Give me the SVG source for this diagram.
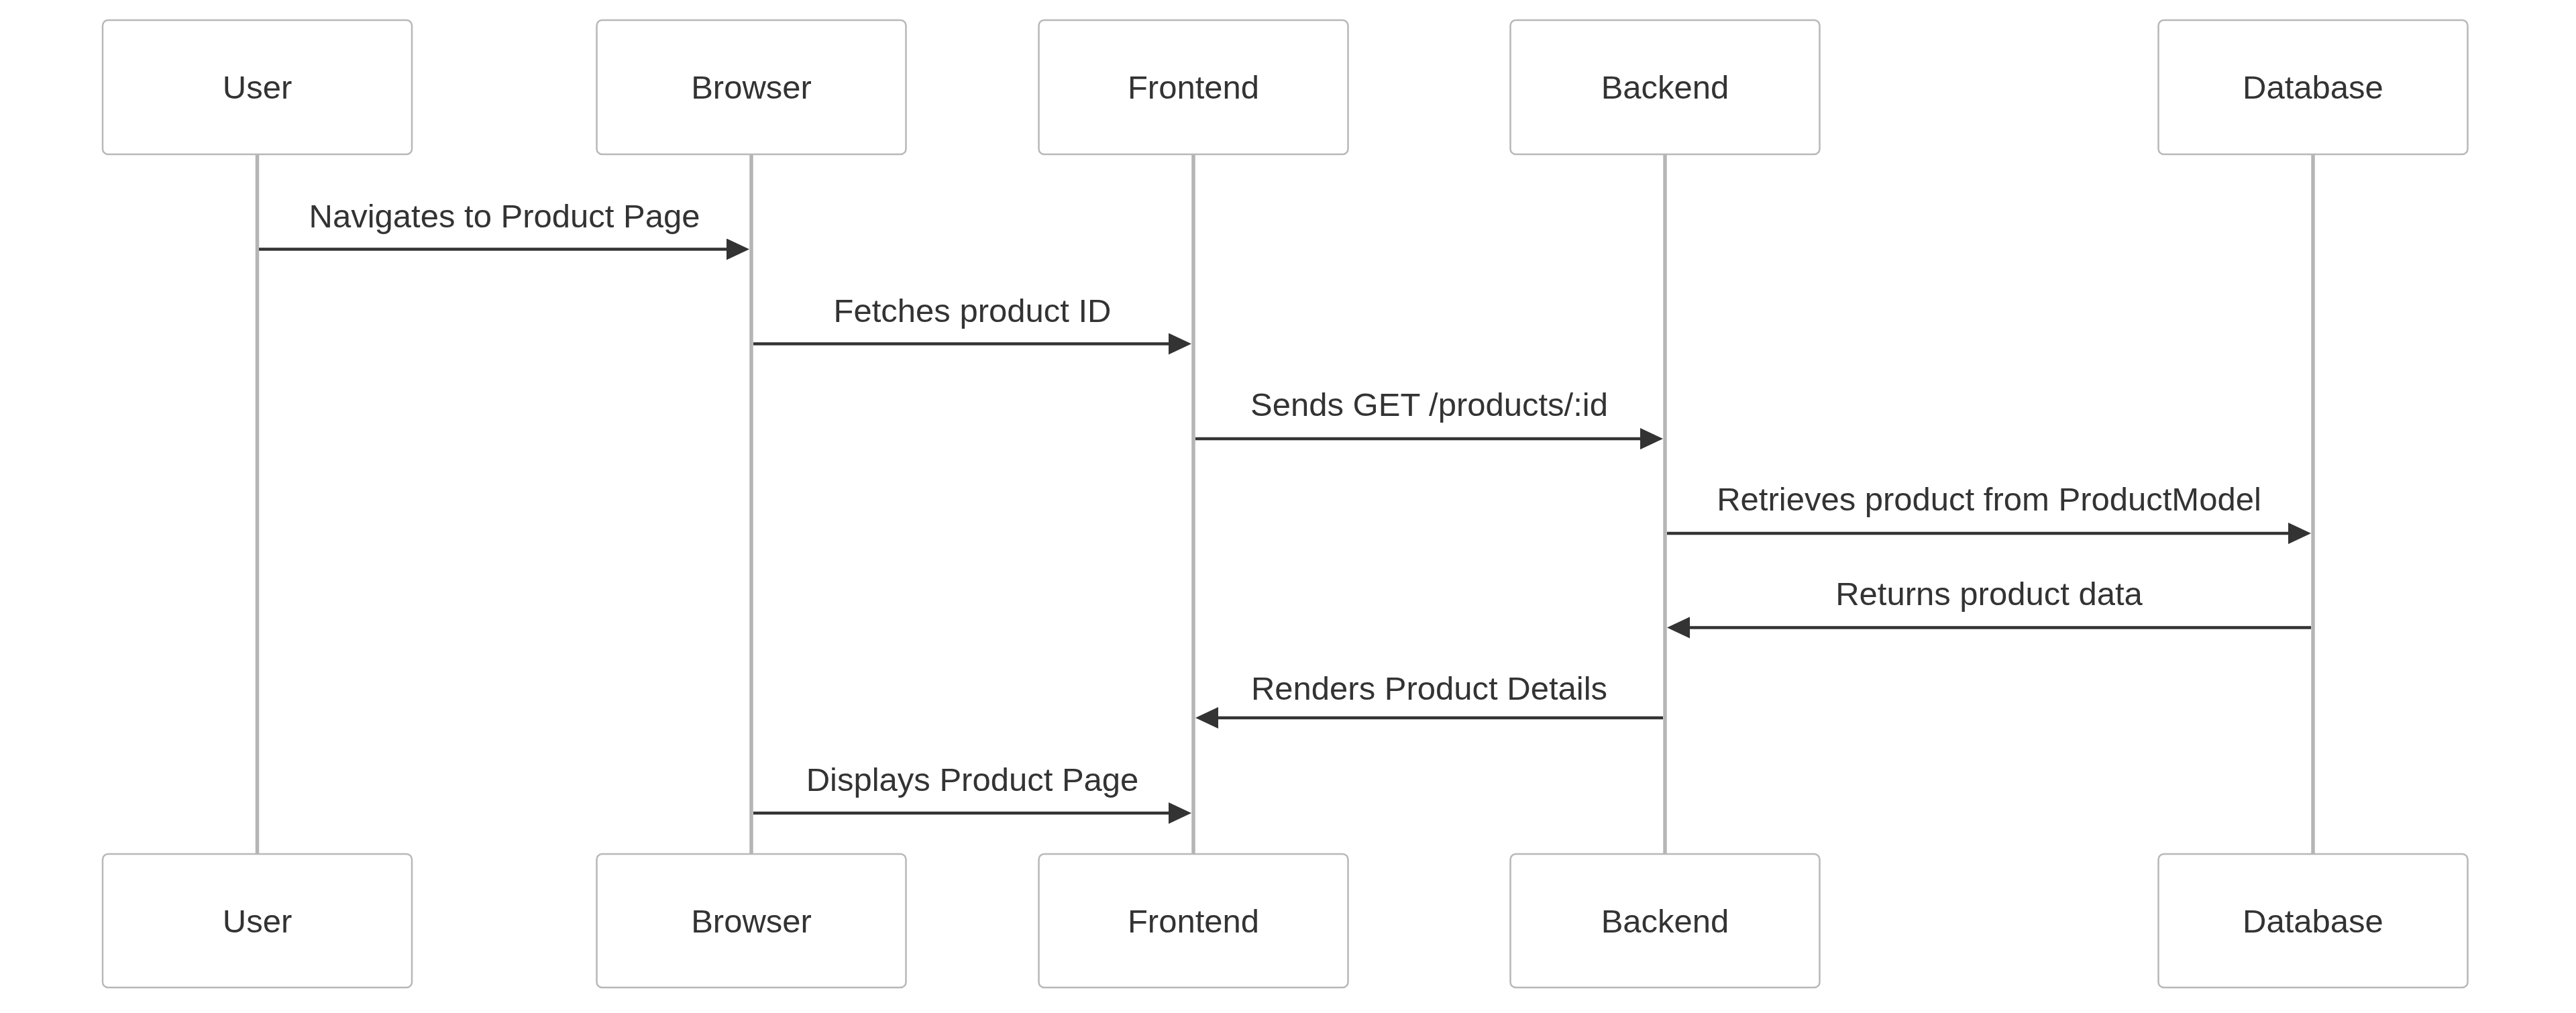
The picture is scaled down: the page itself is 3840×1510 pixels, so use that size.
<svg xmlns="http://www.w3.org/2000/svg" width="3840" height="1510" viewBox="0 0 3840 1510">
<style>
.actor rect{fill:#ffffff;stroke:#b8b8b8;stroke-width:2.5}
.actor text{font-family:"Liberation Sans",Arial,sans-serif;font-size:49px;fill:#333333;text-anchor:middle}
.life{stroke:#b5b5b5;stroke-width:5.5}
.msg{stroke:#333333;stroke-width:4.3;fill:none;marker-end:url(#arrow)}
.lbl{font-family:"Liberation Sans",Arial,sans-serif;font-size:49px;fill:#333333;text-anchor:middle}
</style>
<defs>
<marker id="arrow" markerUnits="userSpaceOnUse" markerWidth="40" markerHeight="40" refX="24" refY="16" orient="auto">
<path d="M0,0 L34,16 L0,32 z" fill="#333333"/>
</marker>
</defs>
<g id="lifelines">
<line class="life" x1="383.5" y1="230" x2="383.5" y2="1273"/>
<line class="life" x1="1120" y1="230" x2="1120" y2="1273"/>
<line class="life" x1="1779" y1="230" x2="1779" y2="1273"/>
<line class="life" x1="2482" y1="230" x2="2482" y2="1273"/>
<line class="life" x1="3448" y1="230" x2="3448" y2="1273"/>
</g>
<g id="user-top" class="actor"><rect x="153" y="30" width="461" height="200" rx="8"/><text x="383.5" y="147">User</text></g>
<g id="browser-top" class="actor"><rect x="889.5" y="30" width="461" height="200" rx="8"/><text x="1120" y="147">Browser</text></g>
<g id="frontend-top" class="actor"><rect x="1548.5" y="30" width="461" height="200" rx="8"/><text x="1779" y="147">Frontend</text></g>
<g id="backend-top" class="actor"><rect x="2251.5" y="30" width="461" height="200" rx="8"/><text x="2482" y="147">Backend</text></g>
<g id="database-top" class="actor"><rect x="3217.5" y="30" width="461" height="200" rx="8"/><text x="3448" y="147">Database</text></g>
<g id="user-bottom" class="actor"><rect x="153" y="1273" width="461" height="199" rx="8"/><text x="383.5" y="1390">User</text></g>
<g id="browser-bottom" class="actor"><rect x="889.5" y="1273" width="461" height="199" rx="8"/><text x="1120" y="1390">Browser</text></g>
<g id="frontend-bottom" class="actor"><rect x="1548.5" y="1273" width="461" height="199" rx="8"/><text x="1779" y="1390">Frontend</text></g>
<g id="backend-bottom" class="actor"><rect x="2251.5" y="1273" width="461" height="199" rx="8"/><text x="2482" y="1390">Backend</text></g>
<g id="database-bottom" class="actor"><rect x="3217.5" y="1273" width="461" height="199" rx="8"/><text x="3448" y="1390">Database</text></g>
<g id="connectors">
<line class="msg" x1="386" y1="371.5" x2="1107" y2="371.5"/>
<text class="lbl" x="752" y="338.5">Navigates to Product Page</text>
<line class="msg" x1="1123" y1="512.5" x2="1766" y2="512.5"/>
<text class="lbl" x="1449.5" y="479.5">Fetches product ID</text>
<line class="msg" x1="1782" y1="654" x2="2469" y2="654"/>
<text class="lbl" x="2130.5" y="620">Sends GET /products/:id</text>
<line class="msg" x1="2485" y1="795" x2="3435" y2="795"/>
<text class="lbl" x="2965" y="761">Retrieves product from ProductModel</text>
<line class="msg" x1="3445" y1="935.5" x2="2495" y2="935.5"/>
<text class="lbl" x="2965" y="901.5">Returns product data</text>
<line class="msg" x1="2479" y1="1070" x2="1792" y2="1070"/>
<text class="lbl" x="2130.5" y="1043">Renders Product Details</text>
<line class="msg" x1="1123" y1="1212" x2="1766" y2="1212"/>
<text class="lbl" x="1449.5" y="1178.5">Displays Product Page</text>
</g>
</svg>
